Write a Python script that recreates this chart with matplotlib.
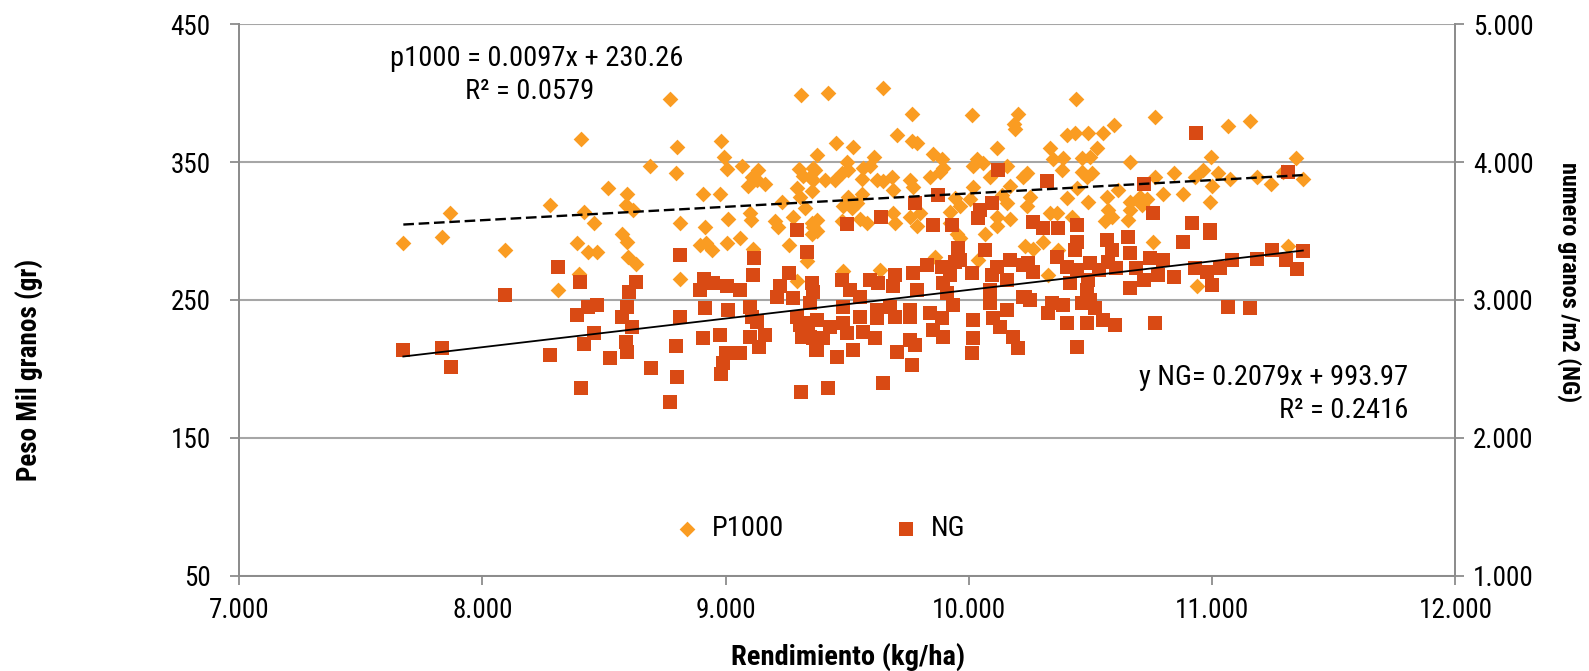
import matplotlib
matplotlib.use("Agg")
import matplotlib.pyplot as plt
from matplotlib import font_manager
from matplotlib.ticker import FuncFormatter
import numpy as np

# P1000 (peso mil granos, gr) vs rendimiento (kg/ha)
p_x = [7675, 7833, 7867, 8093, 8278, 8404, 8418, 8459, 8390, 8435, 8470, 8398, 8312, 8518,
       8771, 9310, 8801, 8981, 8689, 8796, 8993, 9004, 9066, 9134, 9107, 9093, 9128, 9162,
       9303, 9361, 9320, 9361, 9292, 9306, 9354, 9375, 8593, 8590, 8618, 8906, 8977, 8813,
       8915, 9009, 9100, 9103, 9203, 9217, 9231, 9278, 9326, 9354, 9354, 8573, 8593, 8895,
       8919, 8943, 9007, 9059, 9114, 9262, 8600, 8632, 9334, 8813, 9292,
       9422, 9648, 9765, 10014, 10204, 10186, 10190, 9703, 9454, 9525, 9765, 9786, 9368, 9347,
       9500, 9505, 9479, 9608, 9566, 9594, 9854, 9889, 9895, 10032, 10060, 10018, 10115, 10156,
       9408, 9450, 9559, 9621, 9648, 9683, 9758, 9772, 9840, 9881, 10087, 10169, 10224, 9559,
       9505, 9690, 10018, 10135, 9943, 10005, 9484, 9539, 9518, 9690, 9758, 9799, 9923, 9964,
       10156, 10238, 9375, 9361, 9375, 9553, 9580, 9479, 9696, 9786, 9923, 10115, 10169, 10115,
       9950, 9964, 10067, 10039, 9861, 9634, 9484, 10231,
       10441, 10766, 11067, 10596, 10550, 10491, 10437, 10403, 10526, 10498, 10464, 10389, 10334,
       10347, 10382, 10663, 10995, 10464, 10505, 10485, 10238, 10842, 10930, 10964, 11026, 11074,
       10766, 10800, 10882, 10444, 10403, 10491, 10567, 10615, 10663, 10704, 10732, 10711, 10992,
       10998, 10252, 10334, 10361, 10423, 10574, 10588, 10560, 10663, 10656, 10265, 10306, 10368,
       10759, 10327, 10937, 11156, 11345, 11183, 11243, 11373, 11293, 11310]
p_y = [291, 296, 313, 286, 319, 367, 314, 306, 291, 285, 285, 269, 257, 331,
       396, 399, 361, 365, 347, 342, 354, 345, 347, 344, 339, 333, 337, 334,
       345, 346, 340, 337, 331, 325, 329, 355, 327, 319, 315, 327, 327, 306,
       303, 309, 313, 308, 307, 303, 321, 310, 317, 306, 298, 298, 292, 290,
       291, 286, 291, 295, 287, 290, 281, 276, 278, 265, 264,
       400, 404, 385, 384, 385, 378, 374, 370, 364, 361, 365, 364, 344, 339,
       350, 344, 342, 354, 346, 347, 356, 352, 346, 352, 349, 347, 360, 347,
       337, 337, 338, 337, 336, 339, 337, 332, 339, 343, 339, 333, 339, 327,
       325, 330, 332, 326, 324, 323, 318, 320, 317, 313, 310, 313, 314, 318,
       320, 318, 308, 303, 300, 309, 306, 307, 306, 304, 306, 310, 309, 304,
       298, 295, 298, 279, 281, 272, 271, 289,
       396, 383, 376, 377, 371, 371, 371, 370, 360, 354, 353, 353, 360,
       352, 344, 350, 354, 343, 342, 339, 342, 342, 339, 344, 342, 338,
       339, 327, 327, 331, 324, 321, 325, 330, 321, 325, 323, 319, 321,
       333, 325, 313, 313, 310, 315, 310, 307, 315, 308, 287, 292, 286,
       292, 268, 260, 380, 353, 339, 334, 338, 343, 289]

# NG (numero granos /m2) vs rendimiento (kg/ha)
ng_x = [7675, 7833, 7870, 8093, 8312, 8278, 8401, 8390, 8435, 8470, 8459, 8418, 8405, 8525,
        8813, 9117, 9292, 9334, 9114, 9262, 8632, 8604, 8911, 8947, 8895, 9004, 9059, 9224,
        9210, 9278, 9354, 9361, 8593, 8573, 8614, 8590, 8593, 8813, 8915, 9009, 9100, 9107,
        9130, 9292, 9306, 9340, 8796, 8906, 8977, 9100, 9162, 9139, 9313, 9361, 9372, 9002,
        9059, 8990, 8692, 8802, 8980, 8771, 9310,
        10121, 9875, 9779, 10094, 10046, 10039, 9638, 9500, 9854, 9930, 9957, 10067, 9964, 9827,
        9889, 9943, 10012, 10115, 10169, 10224, 9477, 9594, 9628, 9696, 9772, 9923, 9895, 10094,
        10156, 9512, 9553, 9690, 9786, 9909, 10087, 10224, 9347, 9484, 9621, 9676, 9758, 9936,
        10087, 10156, 9375, 9429, 9484, 9553, 9621, 9696, 9758, 9840, 9889, 10018, 10100, 10128,
        9347, 9402, 9500, 9566, 9614, 9758, 9854, 9895, 10018, 10183, 10204, 9375, 9525, 9703,
        9778, 10012, 9457, 9765, 9422, 9648,
        10934, 10323, 10718, 10759, 10265, 10306, 10368, 10444, 10916, 10992, 10992, 10882, 10444,
        10437, 10567, 10588, 10656, 10663, 10361, 10403, 10498, 10574, 10745, 10800, 10245, 10265,
        10444, 10537, 10605, 10688, 10776, 10842, 10930, 10978, 11033, 11081, 10416, 10491, 10663,
        10718, 10998, 10231, 10252, 10485, 10498, 10464, 10341, 10389, 10327, 10519, 10403, 10485,
        10553, 10601, 10766, 11067, 10444, 11310, 11183, 11245, 11304, 11348, 11373, 11156]
ng_y = [2636, 2649, 2515, 3036, 3241, 2600, 3132, 2890, 2950, 2963, 2762, 2680, 2359, 2578,
        3326, 3302, 3507, 3350, 3181, 3193, 3132, 3060, 3149, 3120, 3072, 3103, 3072, 3103,
        3023, 3012, 3120, 3060, 2950, 2878, 2806, 2697, 2624, 2878, 2939, 2927, 2950, 2878,
        2842, 2878, 2818, 2830, 2666, 2721, 2745, 2733, 2745, 2656, 2733, 2721, 2636, 2612,
        2612, 2540, 2508, 2438, 2462, 2261, 2334,
        3943, 3761, 3701, 3701, 3652, 3592, 3604, 3550, 3543, 3543, 3374, 3362, 3289, 3254,
        3241, 3277, 3193, 3241, 3289, 3254, 3145, 3145, 3120, 3181, 3193, 3181, 3120, 3181,
        3145, 3072, 3023, 3103, 3072, 3048, 3072, 3023, 2975, 2950, 2927, 2950, 2927, 2963,
        2975, 2927, 2854, 2806, 2830, 2878, 2867, 2878, 2878, 2902, 2867, 2854, 2867, 2806,
        2733, 2721, 2758, 2770, 2721, 2709, 2782, 2733, 2721, 2733, 2649, 2636, 2636, 2624,
        2673, 2612, 2588, 2528, 2359, 2394,
        4209, 3863, 3841, 3633, 3568, 3520, 3520, 3543, 3556, 3507, 3483, 3422, 3422,
        3362, 3435, 3362, 3459, 3338, 3314, 3241, 3266, 3277, 3302, 3289, 3266, 3205,
        3217, 3217, 3229, 3229, 3181, 3169, 3229, 3205, 3229, 3289, 3120, 3145, 3084,
        3145, 3108, 3023, 2999, 3072, 2999, 2975, 2975, 2963, 2903, 2939, 2830, 2830,
        2854, 2818, 2830, 2950, 2661, 3930, 3295, 3362, 3289, 3221, 3357, 2939]

# trend lines as given in the chart
p_slope, p_int = 0.0097, 230.26
ng_slope, ng_int = 0.2079, 993.97

# condensed font if we have it
names = {f.name for f in font_manager.fontManager.ttflist}
family = "Roboto"
for cand in ["Roboto Condensed", "Liberation Sans Narrow", "Roboto"]:
    if cand in names:
        family = cand
        break
plt.rcParams["font.family"] = [family, "DejaVu Sans"]

orange = "#FA9C22"
red = "#D94A14"
gray = "#8C8C8C"

fig = plt.figure(figsize=(15.89, 6.71), dpi=100)
ax1 = fig.add_axes([0.1505, 0.1422, 0.7654, 0.8216])
ax2 = ax1.twinx()

ax1.set_xlim(7000, 12000)
ax1.set_ylim(50, 450)
ax2.set_ylim(1000, 5000)

ax1.set_yticks([50, 150, 250, 350, 450])
ax2.set_yticks([1000, 2000, 3000, 4000, 5000])
ax1.set_xticks(np.arange(7000, 12001, 1000))

thousands = FuncFormatter(lambda v, p: f"{v:,.0f}".replace(",", "."))
ax1.xaxis.set_major_formatter(thousands)
ax2.yaxis.set_major_formatter(thousands)

ax1.grid(axis="y", color="#A6A6A6", linewidth=1.5)
ax1.set_axisbelow(True)

for ax in (ax1, ax2):
    ax.spines["top"].set_visible(False)
    for s in ["left", "right", "bottom"]:
        ax.spines[s].set_color(gray)
        ax.spines[s].set_linewidth(1.3)
    ax.tick_params(colors=gray, labelcolor="black", labelsize=19.5, length=6.5, width=1.3)
ax1.tick_params(axis="y", pad=14)
ax1.tick_params(axis="x", pad=9)
ax2.tick_params(axis="y", pad=6)

ax1.scatter(p_x, p_y, marker="D", s=64, color=orange, linewidths=0, label="P1000", zorder=3)
ax2.scatter(ng_x, ng_y, marker="s", s=115, color=red, linewidths=0, label="NG", zorder=3)

# trend lines drawn on the top axes so they sit over both series
lx_p = np.array([min(p_x), max(p_x)])
ax2.plot(lx_p, p_slope * lx_p + p_int, transform=ax1.transData, color="black",
         linestyle=(0, (4.5, 2)), linewidth=1.7, zorder=4)
lx_n = np.array([min(ng_x), max(ng_x)])
ax2.plot(lx_n, ng_slope * lx_n + ng_int, color="black", linewidth=1.3, zorder=4)

ax1.text(8225, 425.5, "p1000 = 0.0097x + 230.26", ha="center", va="center", fontsize=20.5)
ax1.text(8195, 401.5, "R² = 0.0579", ha="center", va="center", fontsize=20.5)
ax1.text(11805, 194, "y NG= 0.2079x + 993.97", ha="right", va="center", fontsize=20.5)
ax1.text(11805, 170, "R² = 0.2416", ha="right", va="center", fontsize=20.5)

ax1.text(-0.1717, 0.373, "Peso Mil granos (gr)", transform=ax1.transAxes, rotation=90,
         ha="center", va="center", fontsize=19.5, fontweight="bold")
ax1.text(1.0936, 0.5326, "numero granos /m2 (NG)", transform=ax1.transAxes, rotation=270,
         ha="center", va="center", fontsize=17.5, fontweight="bold")
ax1.text(0.5004, -0.147, "Rendimiento (kg/ha)", transform=ax1.transAxes,
         ha="center", va="center", fontsize=20.5, fontweight="bold")

h1, l1 = ax1.get_legend_handles_labels()
h2, l2 = ax2.get_legend_handles_labels()
ax2.legend(h1 + h2, l1 + l2, loc="center", bbox_to_anchor=(0.478, 0.085), ncol=2,
           frameon=False, fontsize=20.5, columnspacing=3.9, handlelength=0.8,
           handletextpad=0.45)

fig.savefig("out.png", dpi=100)
